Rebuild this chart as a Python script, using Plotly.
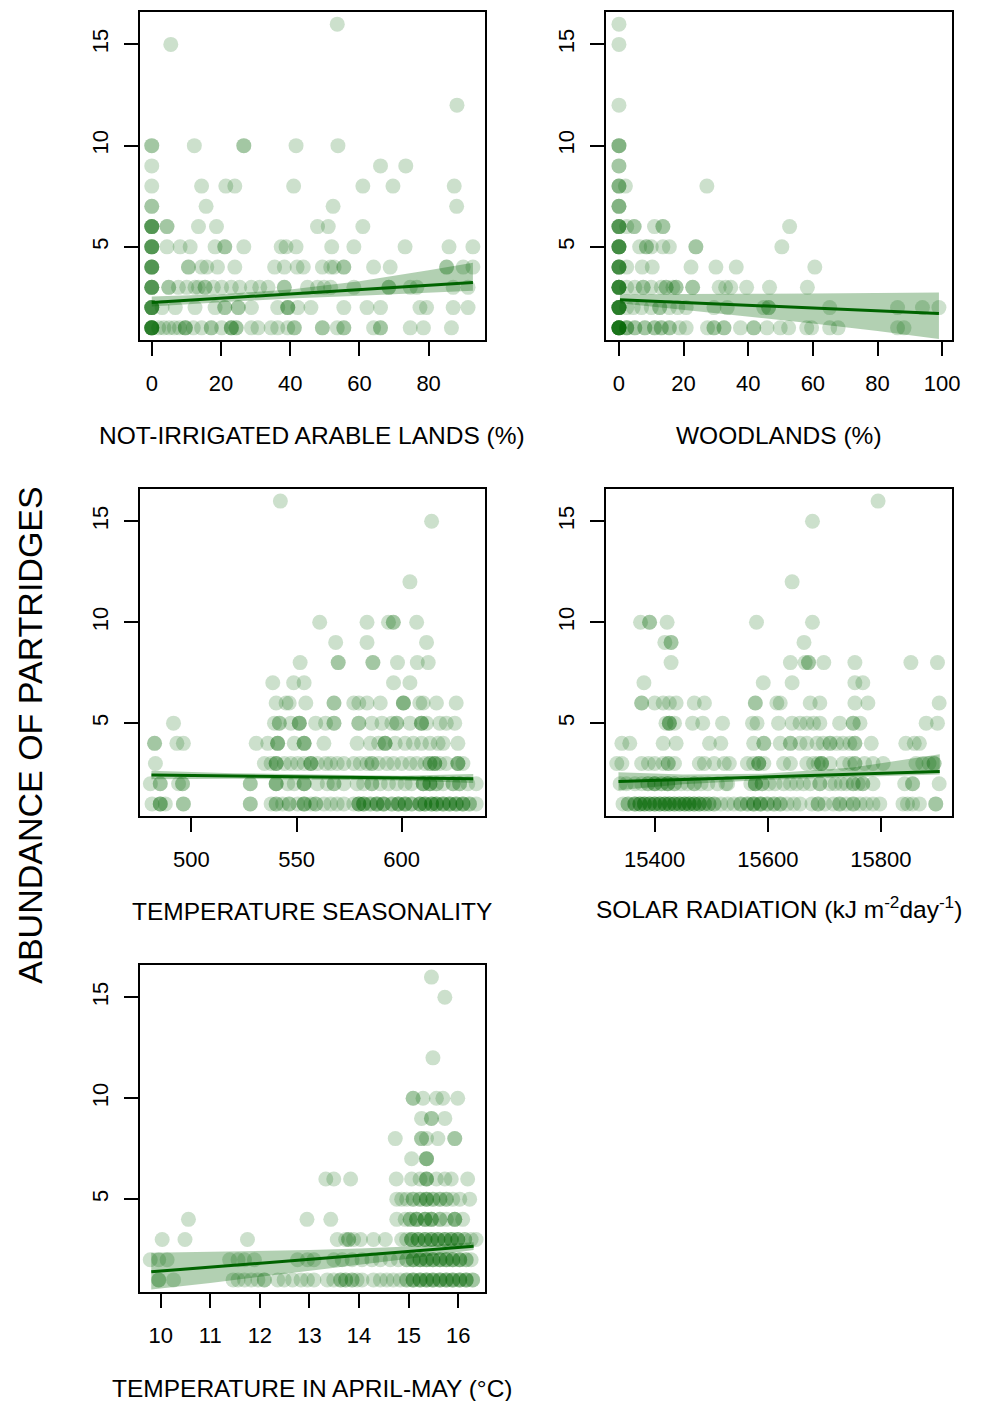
import plotly.graph_objects as go

# ---------------- DATA ----------------
Y_TICKS = [5, 10, 15]

# abundance level -> x values of the sites
ARABLE_PTS = {
    16: [53.6],
    15: [5.5],
    12: [88.2],
    10: [0, 0, 12.3, 26.6, 26.6, 41.7, 53.8],
    9: [0, 66.1, 73.4],
    8: [0, 14.4, 21.4, 24.0, 41.0, 61.0, 69.7, 87.4],
    7: [0, 0, 15.7, 52.4, 88.1],
    6: [0, 0, 0, 0, 0, 4.4, 4.4, 13.5, 18.7, 47.9, 51.0, 61.0],
    5: [0, 0, 0, 0, 0, 4.4, 8.2, 11.1, 18.3, 21.1, 21.1, 26.6, 37.4, 38.8, 41.7, 52.0,
        58.4, 73.2, 85.9, 92.8],
    4: [0, 0, 0, 0, 0, 10.6, 10.6, 14.4, 15.9, 19.0, 24.0, 35.5, 38.3, 42.0, 43.8, 49.3,
        51.7, 52.7, 55.5, 55.5, 64.1, 68.9, 85.2, 85.2, 90.0, 92.8],
    3: [0, 0, 0, 0, 0, 4.9, 4.9, 7.7, 10.1, 12.5, 13.5, 15.4, 15.4, 17.8, 20.2, 23.0,
        25.4, 28.8, 31.2, 33.6, 38.3, 38.3, 45.0, 47.9, 49.8, 51.7, 58.4, 68.5, 68.5,
        74.7, 76.6, 87.1, 91.4],
    2: [0, 0, 0, 0, 0, 0, 3.0, 6.8, 12.5, 18.3, 21.1, 21.1, 25.0, 25.0, 28.8, 36.4,
        39.3, 39.3, 39.3, 42.2, 46.0, 55.5, 62.2, 66.1, 77.5, 79.4, 87.1, 91.4],
    1: [0, 0, 0, 0, 0, 0, 0, 0, 2.0, 3.5, 5.0, 6.5, 8.0, 9.7, 9.7, 9.7, 12.0, 14.4,
        17.2, 17.2, 20.2, 23.0, 23.0, 23.0, 24.4, 24.4, 28.8, 30.7, 34.5, 36.4, 39.3,
        41.2, 41.2, 49.3, 49.3, 53.6, 55.5, 55.5, 64.1, 66.1, 66.1, 74.7, 78.5, 86.6],
}

WOOD_PTS = {
    16: [0],
    15: [0],
    12: [0],
    10: [0, 0, 0],
    9: [0, 0],
    8: [0, 0, 0, 2.0, 27.2],
    7: [0, 0, 0],
    6: [0, 0, 0, 0, 0, 2.4, 4.7, 4.7, 11.0, 13.6, 13.6, 52.8],
    5: [0, 0, 0, 0, 0, 0, 6.4, 8.5, 8.5, 10.0, 13.6, 15.6, 23.8, 23.8, 50.4],
    4: [0, 0, 0, 0, 0, 0, 2.4, 7.2, 10.3, 22.3, 30.0, 36.3, 60.6],
    3: [0, 0, 0, 0, 0, 0, 0, 2.4, 4.9, 7.5, 7.5, 10.0, 13.1, 14.6, 14.6, 16.7, 17.7,
        17.7, 22.8, 22.8, 31.0, 33.0, 34.6, 39.5, 46.6, 58.3],
    2: [0, 0, 0, 0, 0, 0, 0, 0, 2.4, 4.4, 7.0, 10.0, 12.6, 12.6, 15.6, 18.2, 20.8,
        29.4, 33.5, 44.8, 46.3, 46.3, 65.2, 86.2, 93.9, 99.0],
    1: [0, 0, 0, 0, 0, 0, 0, 0, 0, 0, 2.4, 2.4, 2.4, 4.9, 4.9, 8.0, 8.0, 11.0, 11.0,
        13.1, 13.1, 15.6, 15.6, 18.7, 20.8, 27.4, 29.4, 29.4, 32.5, 32.5, 37.6, 41.7,
        41.7, 45.8, 49.9, 52.5, 58.1, 59.6, 65.2, 67.8, 86.2, 88.2],
}

SEASON_PTS = {
    16: [542.3],
    15: [614.2],
    12: [603.9],
    10: [561.0, 583.5, 593.7, 596.0, 596.0, 607.1],
    9: [568.6, 583.5, 611.8],
    8: [551.7, 569.8, 569.8, 586.3, 586.3, 598.0, 607.4, 612.6],
    7: [538.7, 548.6, 553.6, 596.1, 603.9],
    6: [540.3, 545.0, 546.5, 554.4, 567.8, 567.8, 577.2, 579.6, 583.5, 589.8, 600.8,
        600.8, 600.8, 608.6, 610.2, 616.5, 625.9],
    5: [491.5, 539.5, 541.8, 541.8, 547.3, 551.3, 551.3, 551.3, 559.1, 563.8, 567.8,
        567.8, 579.6, 579.6, 585.8, 590.6, 595.3, 597.6, 597.6, 603.9, 609.4, 609.4,
        609.4, 611.8, 618.1, 621.2, 625.2],
    4: [482.5, 482.5, 493.1, 496.2, 530.8, 536.3, 541.0, 541.0, 541.0, 548.9, 553.6,
        553.6, 553.6, 563.0, 578.8, 585.1, 589.0, 592.1, 592.1, 592.1, 596.9, 601.6,
        605.5, 609.4, 613.4, 617.3, 619.7, 626.7],
    3: [482.9, 534.7, 537.9, 540.3, 540.3, 540.3, 544.2, 547.3, 550.5, 553.6, 556.8,
        556.8, 556.8, 559.9, 563.8, 566.2, 569.3, 572.5, 577.2, 580.3, 583.5, 585.8,
        585.8, 589.0, 592.9, 596.1, 600.0, 603.9, 607.1, 611.0, 613.4, 613.4, 615.7,
        615.7, 615.7, 618.1, 621.2, 626.7, 626.7, 626.7, 629.1],
    2: [480.5, 485.2, 485.2, 493.9, 495.8, 495.8, 528.0, 528.0, 540.3, 540.3, 540.3,
        545.8, 548.9, 553.6, 553.6, 553.6, 559.9, 564.6, 567.8, 567.8, 572.5, 578.8,
        581.9, 585.8, 585.8, 589.8, 593.7, 597.6, 601.6, 604.7, 610.2, 610.2, 610.2,
        613.4, 613.4, 613.4, 616.5, 616.5, 619.7, 624.4, 624.4, 627.5, 627.5, 631.4,
        635.4],
    1: [481.3, 485.2, 485.2, 485.2, 487.6, 496.2, 496.2, 528.0, 528.0, 537.9, 540.3,
        540.3, 543.4, 546.5, 546.5, 550.5, 553.6, 553.6, 553.6, 556.8, 559.1, 559.1,
        563.0, 566.2, 569.3, 572.5, 577.2, 579.6, 579.6, 579.6, 581.9, 581.9, 581.9,
        585.1, 585.1, 588.2, 588.2, 588.2, 591.4, 591.4, 591.4, 595.3, 595.3, 598.4,
        598.4, 598.4, 601.6, 601.6, 601.6, 604.7, 604.7, 608.6, 608.6, 608.6, 611.0,
        611.0, 611.0, 614.2, 614.2, 614.2, 616.5, 616.5, 616.5, 619.7, 619.7, 619.7,
        622.8, 622.8, 622.8, 625.9, 625.9, 625.9, 629.1, 629.1, 629.1, 632.2, 632.2,
        635.4],
}

SOLAR_PTS = {
    16: [15795],
    15: [15679],
    12: [15643],
    10: [15375, 15391, 15391, 15422, 15580, 15679],
    9: [15418, 15429, 15429, 15664],
    8: [15429, 15640, 15666, 15672, 15672, 15699, 15754, 15853, 15900],
    7: [15381, 15592, 15643, 15754, 15768],
    6: [15377, 15377, 15400, 15415, 15426, 15438, 15470, 15488, 15578, 15578, 15616,
        15622, 15675, 15692, 15754, 15777, 15903],
    5: [15420, 15426, 15426, 15426, 15435, 15467, 15485, 15520, 15573, 15581, 15619,
        15643, 15657, 15669, 15681, 15692, 15727, 15751, 15751, 15763, 15880, 15900],
    4: [15342, 15356, 15415, 15438, 15497, 15517, 15575, 15593, 15593, 15622, 15640,
        15640, 15657, 15669, 15687, 15698, 15710, 15710, 15722, 15733, 15745, 15754,
        15754, 15783, 15844, 15859, 15868],
    3: [15333, 15342, 15377, 15389, 15400, 15415, 15424, 15424, 15435, 15479, 15488,
        15505, 15523, 15532, 15564, 15575, 15584, 15584, 15584, 15593, 15628, 15640,
        15669, 15681, 15689, 15695, 15695, 15695, 15710, 15733, 15745, 15754, 15754,
        15771, 15786, 15804, 15862, 15874, 15885, 15894, 15894],
    2: [15339, 15350, 15365, 15377, 15388, 15388, 15400, 15400, 15400, 15412, 15412,
        15423, 15423, 15423, 15435, 15435, 15447, 15458, 15470, 15470, 15482, 15494,
        15511, 15526, 15529, 15570, 15578, 15578, 15578, 15590, 15590, 15602, 15613,
        15628, 15640, 15651, 15663, 15675, 15692, 15692, 15710, 15719, 15730, 15739,
        15751, 15751, 15760, 15768, 15768, 15786, 15842, 15856, 15856, 15903],
    1: [15344, 15353, 15353, 15365, 15365, 15365, 15374, 15374, 15374, 15382, 15382,
        15382, 15391, 15391, 15391, 15400, 15400, 15400, 15409, 15409, 15409, 15418,
        15418, 15418, 15426, 15426, 15426, 15435, 15435, 15435, 15444, 15444, 15444,
        15453, 15453, 15453, 15461, 15461, 15461, 15470, 15470, 15470, 15479, 15479,
        15479, 15488, 15488, 15496, 15496, 15505, 15505, 15517, 15529, 15540, 15552,
        15552, 15564, 15564, 15575, 15575, 15575, 15587, 15587, 15587, 15599, 15599,
        15611, 15611, 15622, 15622, 15634, 15646, 15657, 15678, 15689, 15689, 15701,
        15716, 15727, 15727, 15739, 15751, 15751, 15763, 15774, 15786, 15798, 15839,
        15847, 15856, 15868, 15897, 15897],
}

TEMP_PTS = {
    16: [15.46],
    15: [15.73],
    12: [15.49],
    10: [15.09, 15.09, 15.29, 15.56, 15.69, 15.99],
    9: [15.26, 15.46, 15.46, 15.73],
    8: [14.73, 15.26, 15.26, 15.36, 15.59, 15.93, 15.93],
    7: [15.06, 15.36, 15.36, 15.36],
    6: [13.33, 13.49, 13.83, 14.75, 15.06, 15.23, 15.36, 15.36, 15.36, 15.56, 15.73,
        15.86, 16.19],
    5: [14.76, 14.86, 14.96, 15.09, 15.09, 15.23, 15.23, 15.36, 15.36, 15.36, 15.49,
        15.49, 15.63, 15.63, 15.76, 15.76, 15.89, 16.03, 16.23],
    4: [10.56, 12.95, 13.43, 14.76, 14.93, 15.03, 15.03, 15.16, 15.16, 15.16, 15.33,
        15.33, 15.33, 15.46, 15.46, 15.46, 15.63, 15.63, 15.76, 15.93, 15.93, 15.93,
        16.09],
    3: [10.03, 10.49, 11.75, 13.56, 13.73, 13.79, 13.79, 13.89, 14.03, 14.29, 14.53,
        14.86, 14.96, 15.06, 15.06, 15.06, 15.19, 15.19, 15.19, 15.33, 15.33, 15.33,
        15.46, 15.46, 15.46, 15.59, 15.59, 15.59, 15.73, 15.73, 15.73, 15.86, 15.86,
        15.86, 15.99, 15.99, 15.99, 16.13, 16.13, 16.26, 16.36],
    2: [9.79, 9.96, 10.13, 11.39, 11.56, 11.69, 11.89, 12.76, 12.96, 13.09, 13.49,
        13.66, 13.86, 14.06, 14.26, 14.43, 14.63, 14.79, 14.96, 14.96, 15.09, 15.09,
        15.09, 15.23, 15.23, 15.23, 15.36, 15.36, 15.36, 15.49, 15.49, 15.49, 15.63,
        15.63, 15.63, 15.76, 15.76, 15.76, 15.89, 15.89, 15.89, 16.03, 16.03, 16.03,
        16.16, 16.16, 16.26],
    1: [9.96, 9.96, 10.26, 11.46, 11.56, 11.69, 11.83, 11.96, 12.09, 12.09, 12.36,
        12.49, 12.66, 12.83, 12.96, 13.09, 13.36, 13.49, 13.63, 13.63, 13.73, 13.73,
        13.86, 13.86, 13.96, 14.06, 14.29, 14.43, 14.56, 14.69, 14.83, 14.96, 14.96,
        15.09, 15.09, 15.09, 15.23, 15.23, 15.23, 15.36, 15.36, 15.36, 15.49, 15.49,
        15.49, 15.63, 15.63, 15.63, 15.76, 15.76, 15.76, 15.89, 15.89, 15.89, 16.03,
        16.03, 16.03, 16.16, 16.16, 16.16, 16.29, 16.29],
}

# fitted model and confidence band
ARABLE_FIT_X = [0, 20, 40, 60, 80, 92.8]
ARABLE_FIT = [2.25, 2.46, 2.67, 2.88, 3.10, 3.24]
ARABLE_HI = [2.55, 2.66, 2.90, 3.30, 3.85, 4.22]
ARABLE_LO = [2.05, 2.27, 2.45, 2.58, 2.72, 2.83]

WOOD_FIT_X = [0.3, 20, 40, 60, 80, 99]
WOOD_FIT = [2.39, 2.25, 2.12, 1.98, 1.85, 1.71]
WOOD_HI = [2.66, 2.66, 2.68, 2.70, 2.72, 2.75]
WOOD_LO = [2.22, 1.86, 1.55, 1.22, 0.85, 0.45]

SEASON_FIT_X = [481, 520, 560, 600, 634]
SEASON_FIT = [2.43, 2.38, 2.33, 2.28, 2.24]
SEASON_HI = [2.64, 2.52, 2.45, 2.40, 2.48]
SEASON_LO = [2.22, 2.25, 2.21, 2.16, 2.04]

SOLAR_FIT_X = [15336, 15450, 15600, 15750, 15904]
SOLAR_FIT = [2.11, 2.21, 2.34, 2.47, 2.61]
SOLAR_HI = [2.57, 2.46, 2.50, 2.80, 3.46]
SOLAR_LO = [1.68, 1.97, 2.19, 2.33, 2.45]

TEMP_FIT_X = [9.81, 11, 12, 13, 14, 15, 16.31]
TEMP_FIT = [1.40, 1.63, 1.83, 2.03, 2.23, 2.42, 2.67]
TEMP_HI = [2.34, 2.38, 2.42, 2.48, 2.56, 2.66, 2.86]
TEMP_LO = [0.53, 0.85, 1.15, 1.45, 1.75, 2.05, 2.48]

ARABLE_TICKS = [0, 20, 40, 60, 80]
WOOD_TICKS = [0, 20, 40, 60, 80, 100]
SEASON_TICKS = [500, 550, 600]
SOLAR_TICKS = [15400, 15600, 15800]
TEMP_TICKS = [10, 11, 12, 13, 14, 15, 16]

TITLES = [
    "NOT-IRRIGATED ARABLE LANDS (%)",
    "WOODLANDS (%)",
    "TEMPERATURE SEASONALITY",
    "SOLAR RADIATION (kJ m<sup>-2</sup>day<sup>-1</sup>)",
    "TEMPERATURE IN APRIL-MAY (°C)",
]
Y_TITLE = "ABUNDANCE OF PARTRIDGES"

# ---------------- LAYOUT / STYLE ----------------
W, H = 982, 1401
FONT = "Liberation Sans, Arial, sans-serif"
PT_COLOR = "rgba(0,100,0,0.2)"
BAND_COLOR = "rgba(0,100,0,0.3)"
LINE_COLOR = "rgb(0,100,0)"

# pixel frames of the panels: (left, right, top, bottom)
FRAMES = [(141, 489, 12, 340), (611, 960, 12, 340),
          (141, 489, 489, 816), (611, 960, 489, 816),
          (141, 489, 965, 1292)]
X_RANGES = [[-3.44, 96.3], [-4.0, 103.1], [475.5, 639.6], [15314, 15926], [9.58, 16.54]]
Y_RANGE = [0.4, 16.6]
TITLE_Y = [435, 435, 911, 907, 1388]

panels = [
    (ARABLE_PTS, ARABLE_FIT_X, ARABLE_FIT, ARABLE_HI, ARABLE_LO, ARABLE_TICKS),
    (WOOD_PTS, WOOD_FIT_X, WOOD_FIT, WOOD_HI, WOOD_LO, WOOD_TICKS),
    (SEASON_PTS, SEASON_FIT_X, SEASON_FIT, SEASON_HI, SEASON_LO, SEASON_TICKS),
    (SOLAR_PTS, SOLAR_FIT_X, SOLAR_FIT, SOLAR_HI, SOLAR_LO, SOLAR_TICKS),
    (TEMP_PTS, TEMP_FIT_X, TEMP_FIT, TEMP_HI, TEMP_LO, TEMP_TICKS),
]

fig = go.Figure()
layout = dict(
    width=W, height=H, margin=dict(l=0, r=0, t=0, b=0),
    paper_bgcolor="white", plot_bgcolor="white", showlegend=False,
    font=dict(family=FONT, color="black"),
)
annotations = []

for i, (pts, fx, fy, hi, lo, xticks) in enumerate(panels):
    n = "" if i == 0 else str(i + 1)
    xs, ys = [], []
    for level, vals in pts.items():
        for v in vals:
            xs.append(v)
            ys.append(level)
    fig.add_trace(go.Scatter(
        x=xs, y=ys, mode="markers", xaxis="x" + n, yaxis="y" + n,
        marker=dict(size=15, color=PT_COLOR, line=dict(width=0)),
        hoverinfo="x+y"))
    fig.add_trace(go.Scatter(
        x=list(fx) + list(fx)[::-1], y=list(hi) + list(lo)[::-1],
        mode="lines", fill="toself", fillcolor=BAND_COLOR, line=dict(width=0),
        xaxis="x" + n, yaxis="y" + n, hoverinfo="skip"))
    fig.add_trace(go.Scatter(
        x=fx, y=fy, mode="lines", line=dict(color=LINE_COLOR, width=3),
        xaxis="x" + n, yaxis="y" + n, hoverinfo="skip"))

    l, r, t, b = FRAMES[i]
    axis_common = dict(
        showgrid=False, zeroline=False, showline=True, mirror=True,
        linecolor="black", linewidth=2, ticks="outside", ticklen=14,
        tickwidth=2, tickcolor="black",
        tickfont=dict(family=FONT, size=22, color="black"),
    )
    layout["xaxis" + n] = dict(
        axis_common, domain=[l / W, r / W], anchor="y" + n,
        range=X_RANGES[i], tickmode="array", tickvals=xticks,
        ticktext=[str(v) for v in xticks], ticklabelstandoff=9)
    layout["yaxis" + n] = dict(
        axis_common, domain=[1 - b / H, 1 - t / H], anchor="x" + n,
        range=Y_RANGE, tickmode="array", tickvals=Y_TICKS,
        ticktext=[str(v) for v in Y_TICKS], tickangle=-90,
        ticklabelstandoff=7)
    annotations.append(dict(
        text=TITLES[i], x=(l + r) / 2 / W, y=1 - TITLE_Y[i] / H,
        xref="paper", yref="paper", xanchor="center", yanchor="middle",
        showarrow=False, font=dict(family=FONT, size=24.5, color="black")))

annotations.append(dict(
    text=Y_TITLE, x=30 / W, y=1 - 735 / H, xref="paper", yref="paper",
    xanchor="center", yanchor="middle", textangle=-90, showarrow=False,
    font=dict(family=FONT, size=34, color="black")))
layout["annotations"] = annotations
fig.update_layout(**layout)

fig.write_html("out.html")
